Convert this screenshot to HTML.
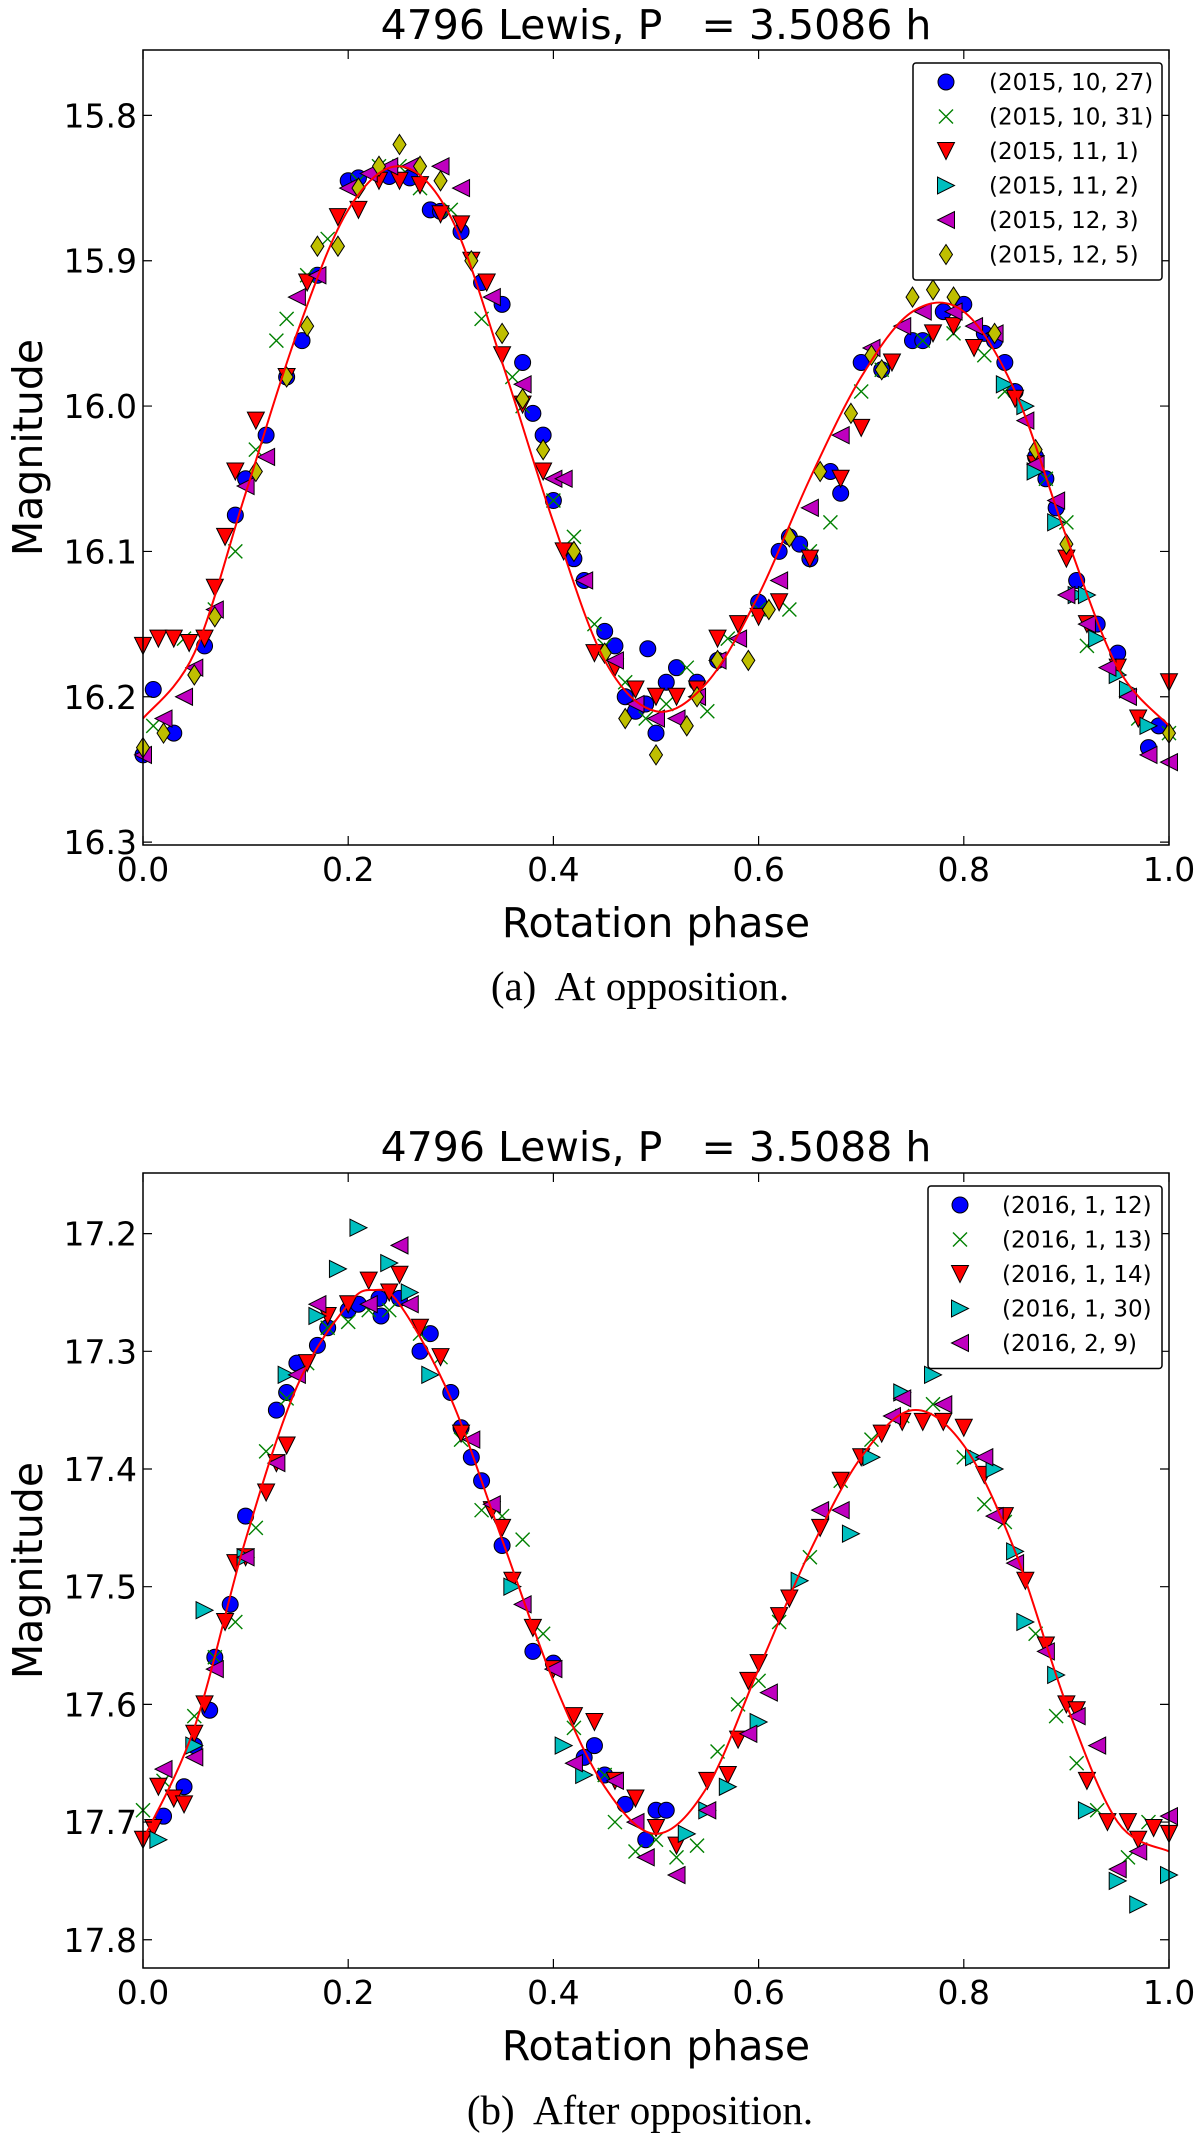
<!DOCTYPE html>
<html><head><meta charset="utf-8"><style>
html,body{margin:0;padding:0;background:#fff;}
svg{display:block;}
text{font-family:"DejaVu Sans","Liberation Sans",sans-serif;fill:#000;white-space:pre;}
.serif{font-family:"Liberation Serif","DejaVu Serif",serif;}
</style></head><body>
<svg id="chart" width="1200" height="2141" viewBox="0 0 1200 2141" xmlns="http://www.w3.org/2000/svg" xml:space="preserve"></svg>
<script>
// ---------- Panel A data (2015) ----------
const aLabels = ["(2015, 10, 27)","(2015, 10, 31)","(2015, 11, 1)","(2015, 11, 2)","(2015, 12, 3)","(2015, 12, 5)"];
const aS1 = [[0,16.24],[.01,16.195],[.03,16.225],[.06,16.165],[.09,16.075],[.1,16.05],[.12,16.02],[.14,15.98],[.155,15.955],[.17,15.91],[.2,15.845],[.21,15.843],[.24,15.842],[.26,15.843],[.28,15.865],[.29,15.866],[.31,15.88],[.33,15.915],[.35,15.93],[.37,15.97],[.38,16.005],[.39,16.02],[.4,16.065],[.42,16.105],[.43,16.12],[.45,16.155],[.46,16.165],[.47,16.2],[.48,16.21],[.49,16.205],[.5,16.225],[.492,16.167],[.51,16.19],[.52,16.18],[.54,16.19],[.56,16.175],[.6,16.135],[.62,16.1],[.63,16.09],[.64,16.095],[.65,16.105],[.67,16.045],[.68,16.06],[.7,15.97],[.72,15.975],[.75,15.955],[.76,15.955],[.78,15.935],[.8,15.93],[.82,15.95],[.83,15.955],[.84,15.97],[.85,15.99],[.87,16.035],[.88,16.05],[.89,16.07],[.91,16.12],[.93,16.15],[.95,16.17],[.98,16.235],[.99,16.22]];
const aS2 = [[.01,16.22],[.04,16.16],[.07,16.14],[.09,16.1],[.11,16.03],[.13,15.955],[.14,15.94],[.16,15.91],[.18,15.885],[.21,15.845],[.23,15.835],[.25,15.835],[.27,15.85],[.3,15.865],[.33,15.94],[.36,15.98],[.37,16.0],[.4,16.065],[.42,16.09],[.44,16.15],[.45,16.165],[.47,16.19],[.49,16.215],[.51,16.205],[.53,16.18],[.55,16.21],[.57,16.16],[.6,16.14],[.63,16.14],[.65,16.1],[.67,16.08],[.7,15.99],[.72,15.975],[.76,15.955],[.79,15.95],[.82,15.965],[.84,15.99],[.88,16.05],[.9,16.08],[.92,16.165],[.95,16.18],[.97,16.215],[1.0,16.225]];
const aS3 = [[0,16.165],[.015,16.16],[.03,16.16],[.045,16.163],[.06,16.16],[.07,16.125],[.08,16.09],[.09,16.045],[.11,16.01],[.14,15.98],[.16,15.915],[.19,15.87],[.21,15.865],[.23,15.845],[.25,15.845],[.27,15.848],[.29,15.868],[.31,15.875],[.32,15.9],[.335,15.915],[.35,15.965],[.37,15.999],[.39,16.045],[.41,16.1],[.44,16.17],[.46,16.18],[.48,16.195],[.5,16.2],[.52,16.2],[.54,16.195],[.56,16.16],[.58,16.15],[.6,16.145],[.62,16.135],[.65,16.105],[.68,16.05],[.7,16.015],[.73,15.97],[.77,15.95],[.79,15.945],[.81,15.96],[.85,15.995],[.87,16.04],[.9,16.105],[.92,16.15],[.95,16.18],[.97,16.215],[1.0,16.19]];
const aS4 = [[.84,15.985],[.86,16.0],[.87,16.045],[.89,16.08],[.91,16.13],[.92,16.13],[.93,16.16],[.95,16.185],[.96,16.195],[.98,16.22]];
const aS5 = [[0,16.24],[.02,16.215],[.04,16.2],[.05,16.18],[.07,16.14],[.1,16.055],[.12,16.035],[.15,15.925],[.17,15.91],[.2,15.85],[.22,15.84],[.24,15.835],[.26,15.835],[.29,15.835],[.31,15.85],[.34,15.925],[.37,15.985],[.4,16.05],[.41,16.05],[.43,16.12],[.46,16.175],[.48,16.205],[.5,16.215],[.52,16.215],[.54,16.2],[.56,16.175],[.58,16.16],[.62,16.12],[.65,16.07],[.68,16.02],[.71,15.96],[.74,15.945],[.76,15.935],[.79,15.935],[.81,15.945],[.83,15.95],[.86,16.01],[.87,16.04],[.89,16.065],[.9,16.13],[.92,16.15],[.94,16.18],[.96,16.2],[.98,16.24],[1.0,16.245]];
const aS6 = [[0,16.235],[.02,16.225],[.05,16.185],[.07,16.145],[.11,16.045],[.14,15.98],[.16,15.945],[.17,15.89],[.19,15.89],[.21,15.85],[.23,15.835],[.25,15.82],[.27,15.835],[.29,15.845],[.32,15.9],[.35,15.95],[.37,15.995],[.39,16.03],[.42,16.1],[.45,16.17],[.47,16.215],[.5,16.24],[.53,16.22],[.54,16.2],[.56,16.175],[.59,16.175],[.61,16.14],[.63,16.09],[.66,16.045],[.69,16.005],[.71,15.965],[.72,15.975],[.75,15.925],[.77,15.92],[.79,15.925],[.83,15.95],[.87,16.03],[.9,16.095],[1.0,16.225]];
const aFitPhase = [0,.05,.1,.15,.2,.25,.3,.35,.4,.45,.5,.55,.6,.65,.7,.75,.8,.85,.9,.95,1.0];
const aFitMag = [16.215,16.17,16.06,15.95,15.865,15.835,15.87,15.97,16.08,16.175,16.21,16.19,16.13,16.05,15.98,15.935,15.935,15.99,16.09,16.18,16.22];
const aYTicks = [15.8,15.9,16.0,16.1,16.2,16.3];
// ---------- Panel B data (2016) ----------
const bLabels = ["(2016, 1, 12)","(2016, 1, 13)","(2016, 1, 14)","(2016, 1, 30)","(2016, 2, 9)"];
const bS1 = [[.02,17.695],[.04,17.67],[.05,17.635],[.065,17.605],[.07,17.56],[.085,17.515],[.1,17.44],[.13,17.35],[.14,17.335],[.15,17.31],[.17,17.295],[.18,17.28],[.2,17.265],[.21,17.26],[.23,17.255],[.232,17.27],[.25,17.255],[.27,17.3],[.28,17.285],[.3,17.335],[.31,17.365],[.32,17.39],[.33,17.41],[.35,17.465],[.38,17.555],[.4,17.565],[.43,17.645],[.44,17.635],[.45,17.66],[.47,17.685],[.49,17.715],[.5,17.69],[.51,17.69]];
const bS2 = [[0,17.69],[.02,17.665],[.05,17.61],[.07,17.56],[.09,17.53],[.11,17.45],[.12,17.385],[.14,17.34],[.16,17.31],[.18,17.28],[.2,17.275],[.22,17.265],[.24,17.265],[.27,17.285],[.29,17.305],[.31,17.375],[.33,17.435],[.35,17.44],[.37,17.46],[.39,17.54],[.42,17.62],[.45,17.66],[.46,17.7],[.48,17.725],[.5,17.715],[.52,17.73],[.54,17.72],[.56,17.64],[.58,17.6],[.6,17.58],[.62,17.53],[.65,17.475],[.68,17.41],[.71,17.375],[.74,17.355],[.77,17.345],[.8,17.39],[.82,17.43],[.84,17.445],[.87,17.54],[.89,17.61],[.91,17.65],[.93,17.69],[.96,17.73],[.98,17.7]];
const bS3 = [[0,17.715],[.01,17.705],[.015,17.67],[.03,17.68],[.04,17.685],[.05,17.625],[.06,17.6],[.08,17.53],[.09,17.48],[.1,17.475],[.12,17.42],[.13,17.395],[.14,17.38],[.16,17.31],[.18,17.27],[.2,17.26],[.22,17.24],[.24,17.25],[.25,17.235],[.27,17.28],[.29,17.305],[.31,17.37],[.34,17.435],[.35,17.45],[.36,17.495],[.38,17.535],[.4,17.57],[.42,17.61],[.44,17.615],[.46,17.665],[.48,17.68],[.5,17.705],[.52,17.72],[.55,17.665],[.57,17.66],[.58,17.63],[.59,17.58],[.6,17.565],[.62,17.525],[.63,17.51],[.66,17.45],[.68,17.41],[.7,17.39],[.72,17.37],[.74,17.36],[.76,17.36],[.78,17.36],[.8,17.365],[.82,17.405],[.84,17.44],[.86,17.495],[.88,17.55],[.9,17.6],[.91,17.605],[.92,17.665],[.94,17.7],[.96,17.7],[.97,17.715],[.985,17.705],[1.0,17.71]];
const bS4 = [[.015,17.715],[.05,17.635],[.06,17.52],[.1,17.475],[.14,17.32],[.17,17.27],[.19,17.23],[.21,17.195],[.24,17.225],[.26,17.25],[.28,17.32],[.36,17.5],[.41,17.635],[.43,17.66],[.53,17.71],[.55,17.69],[.57,17.67],[.6,17.615],[.64,17.495],[.69,17.455],[.71,17.39],[.74,17.335],[.77,17.32],[.81,17.39],[.83,17.4],[.85,17.47],[.86,17.53],[.89,17.575],[.92,17.69],[.95,17.75],[.97,17.77],[1.0,17.745]];
const bS5 = [[.02,17.655],[.05,17.645],[.07,17.57],[.1,17.475],[.13,17.395],[.15,17.32],[.17,17.26],[.22,17.26],[.25,17.21],[.26,17.26],[.32,17.375],[.34,17.43],[.37,17.515],[.4,17.57],[.42,17.65],[.46,17.665],[.48,17.7],[.49,17.73],[.52,17.745],[.55,17.69],[.59,17.625],[.61,17.59],[.66,17.435],[.68,17.435],[.73,17.355],[.74,17.34],[.78,17.345],[.82,17.39],[.83,17.44],[.85,17.48],[.88,17.555],[.91,17.61],[.93,17.635],[.95,17.74],[.97,17.725],[1.0,17.695]];
const bFitPhase = [0,.05,.1,.15,.2,.225,.25,.3,.35,.4,.45,.5,.55,.6,.65,.7,.75,.8,.85,.9,.95,1.0];
const bFitMag = [17.715,17.62,17.46,17.33,17.26,17.248,17.26,17.34,17.46,17.58,17.67,17.71,17.67,17.57,17.47,17.39,17.35,17.38,17.47,17.6,17.7,17.725];
const bYTicks = [17.2,17.3,17.4,17.5,17.6,17.7,17.8];
const xTicks = [0,0.2,0.4,0.6,0.8,1.0];

const NS = "http://www.w3.org/2000/svg";
const svg = document.getElementById('chart');
function mk(tag, attrs, parent){const e=document.createElementNS(NS,tag);for(const k in attrs)e.setAttribute(k,attrs[k]);(parent||svg).appendChild(e);return e;}

const styles = [
  {shape:'circle', fill:'#0000ff'},
  {shape:'x', fill:'#008000'},
  {shape:'down', fill:'#ff0000'},
  {shape:'right', fill:'#00bfbf'},
  {shape:'left', fill:'#bf00bf'},
  {shape:'diamond', fill:'#bfbf00'}
];
function marker(g, shape, fill, x, y){
  const s=8.5; let e;
  if(shape==='circle'){ e=mk('circle',{cx:x,cy:y,r:8,fill:fill,stroke:'#000','stroke-width':1},g); }
  else if(shape==='x'){ e=mk('path',{d:`M${x-7},${y-7}L${x+7},${y+7}M${x-7},${y+7}L${x+7},${y-7}`,stroke:fill,'stroke-width':1.4,fill:'none'},g); }
  else if(shape==='down'){ e=mk('polygon',{points:`${x-s},${y-s} ${x+s},${y-s} ${x},${y+s}`,fill:fill,stroke:'#000','stroke-width':1},g); }
  else if(shape==='right'){ e=mk('polygon',{points:`${x-s},${y-s} ${x-s},${y+s} ${x+s},${y}`,fill:fill,stroke:'#000','stroke-width':1},g); }
  else if(shape==='left'){ e=mk('polygon',{points:`${x+s},${y-s} ${x+s},${y+s} ${x-s},${y}`,fill:fill,stroke:'#000','stroke-width':1},g); }
  else { e=mk('polygon',{points:`${x},${y-10} ${x+6.5},${y} ${x},${y+10} ${x-6.5},${y}`,fill:fill,stroke:'#000','stroke-width':1},g); }
  
  
  return e;
}

function panel(cfg){
  const {id,L,R,T,B,ymin,ymax,series,labels,fitP,fitM,yTicks,title,titleY,caption,capY,leg} = cfg;
  const sx = p => L + (R-L)*p;
  const sy = m => T + (B-T)*(m-ymin)/(ymax-ymin);
  const g = mk('g',{});
  
  
  const t = mk('text',{x:(L+R)/2,y:titleY,'font-size':41,'text-anchor':'middle'},g);
  t.textContent = title;
  
  
  series.forEach((pts,i)=>{
    const sg = mk('g',{},g);
    
    
    pts.forEach(([p,m])=>marker(sg, styles[i].shape, styles[i].fill, sx(p), sy(m)));
  });
  const P = fitP.map((p,i)=>[sx(p),sy(fitM[i])]);
  let d = `M${P[0][0]},${P[0][1]}`;
  for(let i=0;i<P.length-1;i++){
    const p0=P[Math.max(0,i-1)],p1=P[i],p2=P[i+1],p3=P[Math.min(P.length-1,i+2)];
    d+=` C${p1[0]+(p2[0]-p0[0])/6},${p1[1]+(p2[1]-p0[1])/6} ${p2[0]-(p3[0]-p1[0])/6},${p2[1]-(p3[1]-p1[1])/6} ${p2[0]},${p2[1]}`;
  }
  const fit = mk('path',{d:d,fill:'none',stroke:'#ff0000','stroke-width':2},g);
  
  
  const fr = mk('rect',{x:L,y:T,width:R-L,height:B-T,fill:'none',stroke:'#000','stroke-width':1.5},g);
  
  
  xTicks.forEach(v=>{
    const x=sx(v);
    mk('path',{d:`M${x},${B}V${B-9}M${x},${T}V${T+9}`,stroke:'#000','stroke-width':1.2},g);
    const tl=mk('text',{x:x,y:B+36,'font-size':33,'text-anchor':'middle'},g);
    tl.textContent=v.toFixed(1);
    
    
  });
  yTicks.forEach(v=>{
    const y=sy(v);
    mk('path',{d:`M${L},${y}H${L+9}M${R},${y}H${R-9}`,stroke:'#000','stroke-width':1.2},g);
    const tl=mk('text',{x:L-6,y:y+12,'font-size':33,'text-anchor':'end'},g);
    tl.textContent=v.toFixed(1);
    
    
  });
  const xl=mk('text',{x:(L+R)/2,y:B+92,'font-size':41,'text-anchor':'middle'},g);
  xl.textContent='Rotation phase';
  
  
  const yc=(T+B)/2;
  const yl=mk('text',{x:42,y:yc,'font-size':41,'text-anchor':'middle',transform:`rotate(-90 42 ${yc})`},g);
  yl.textContent='Magnitude';
  
  
  const cp=mk('text',{x:640,y:capY,'font-size':41,'text-anchor':'middle',class:'serif'},g);
  cp.textContent=caption;
  
  
  const lg = mk('g',{},g);
  
  
  mk('rect',{x:leg.x,y:leg.y,width:leg.w,height:34.5*labels.length+10,rx:3,fill:'#fff',stroke:'#000','stroke-width':1.5},lg);
  labels.forEach((lab,i)=>{
    const cy = leg.y+19+34.5*i;
    const eg = mk('g',{},lg);
    
    
    marker(eg, styles[i].shape, styles[i].fill, leg.mx, cy);
    const tx=mk('text',{x:leg.tx,y:cy+8,'font-size':23},eg);
    tx.textContent=lab;
  });
}

panel({id:'opposition',L:143,R:1169,T:50,B:845,ymin:15.755,ymax:16.302,
  series:[aS1,aS2,aS3,aS4,aS5,aS6],labels:aLabels,fitP:aFitPhase,fitM:aFitMag,yTicks:aYTicks,
  title:'4796 Lewis, P   = 3.5086 h',titleY:39,caption:'(a)  At opposition.',capY:1000,
  leg:{x:913,y:63,w:249,mx:946,tx:989}});
panel({id:'after-opposition',L:143,R:1169,T:1173,B:1968,ymin:17.1485,ymax:17.824,
  series:[bS1,bS2,bS3,bS4,bS5],labels:bLabels,fitP:bFitPhase,fitM:bFitMag,yTicks:bYTicks,
  title:'4796 Lewis, P   = 3.5088 h',titleY:1161,caption:'(b)  After opposition.',capY:2124,
  leg:{x:928,y:1186,w:234,mx:960,tx:1002}});
</script>
</body></html>
